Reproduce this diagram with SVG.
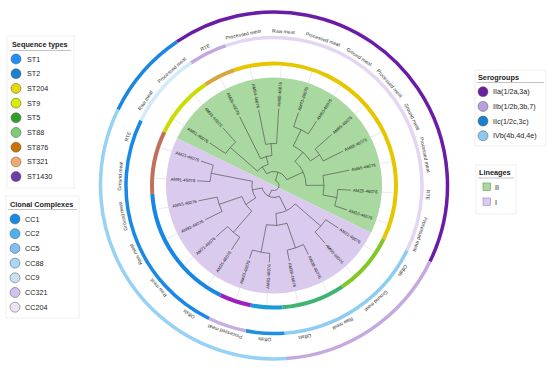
<svg xmlns="http://www.w3.org/2000/svg" width="550" height="373" viewBox="0 0 550 373">
<style>
text{font-family:"Liberation Sans",Arial,sans-serif;fill:#222}
.ttl{font-size:7.3px;font-weight:bold}
.it{font-size:7.2px}
.box{fill:#fff;stroke:#ececec;stroke-width:0.8}
.ul{stroke:#999;stroke-width:0.6}
.dot{stroke:#555;stroke-width:0.5}
.br{stroke:#4a4a4a;stroke-width:0.6;fill:none}
.arc{fill:none;stroke:#4a4a4a;stroke-width:0.6}
.ext{stroke:#d4d4d4;stroke-width:0.5}
.lf{font-size:4.3px;dominant-baseline:central}
.src{font-size:5px;text-anchor:middle;fill:#333}
.rs{fill:none;stroke-width:4}
.rc{fill:none;stroke-width:3.5}
.ro{fill:none;stroke-width:3.5}
</style>
<rect width="550" height="373" fill="#fff"/>
<g id="tree" transform="translate(274,185.5)">
  <g id="lineage-fill">
    <path d="M-108,0 A108,108 0 0 1 108,0 Z" transform="rotate(26)" fill="#a9d9a0"/>
    <path d="M108,0 A108,108 0 0 1 -108,0 Z" transform="rotate(26)" fill="#d9caee"/>
  </g>
  <g id="st-ring">
    <circle class="rs" r="122" pathLength="360" stroke="#cbdc00" stroke-dasharray="30 360" transform="rotate(206)"/>
    <circle class="rs" r="122" pathLength="360" stroke="#d7a53e" stroke-dasharray="15 360" transform="rotate(236)"/>
    <circle class="rs" r="122" pathLength="360" stroke="#e5c600" stroke-dasharray="135 360" transform="rotate(251)"/>
    <circle class="rs" r="122" pathLength="360" stroke="#84c62a" stroke-dasharray="30 360" transform="rotate(26)"/>
    <circle class="rs" r="122" pathLength="360" stroke="#3fb373" stroke-dasharray="30 360" transform="rotate(56)"/>
    <circle class="rs" r="122" pathLength="360" stroke="#1a9ad8" stroke-dasharray="15 360" transform="rotate(86)"/>
    <circle class="rs" r="122" pathLength="360" stroke="#9b22c0" stroke-dasharray="15 360" transform="rotate(101)"/>
    <circle class="rs" r="122" pathLength="360" stroke="#1786e6" stroke-dasharray="60 360" transform="rotate(116)"/>
    <circle class="rs" r="122" pathLength="360" stroke="#c2705e" stroke-dasharray="30 360" transform="rotate(176)"/>
  </g>
  <g id="cc-ring">
    <circle class="rc" r="148" pathLength="360" stroke="#d3eaf9" stroke-dasharray="30 360" transform="rotate(206)"/>
    <circle class="rc" r="148" pathLength="360" stroke="#c4a6e0" stroke-dasharray="15 360" transform="rotate(236)"/>
    <circle class="rc" r="148" pathLength="360" stroke="#e3d6f3" stroke-dasharray="135 360" transform="rotate(251)"/>
    <circle class="rc" r="148" pathLength="360" stroke="#8dcdf4" stroke-dasharray="60 360" transform="rotate(26)"/>
    <circle class="rc" r="148" pathLength="360" stroke="#1f8fe6" stroke-dasharray="15 360" transform="rotate(86)"/>
    <circle class="rc" r="148" pathLength="360" stroke="#c6aee0" stroke-dasharray="15 360" transform="rotate(101)"/>
    <circle class="rc" r="148" pathLength="360" stroke="#1a88e6" stroke-dasharray="90 360" transform="rotate(116)"/>
  </g>
  <g id="serogroup-ring">
    <circle class="ro" r="173.5" pathLength="360" stroke="#1a86e0" stroke-dasharray="30 360" transform="rotate(206)"/>
    <circle class="ro" r="173.5" pathLength="360" stroke="#6a1ca6" stroke-dasharray="150 360" transform="rotate(236)"/>
    <circle class="ro" r="173.5" pathLength="360" stroke="#c5a8df" stroke-dasharray="60 360" transform="rotate(26)"/>
    <circle class="ro" r="173.5" pathLength="360" stroke="#96d2f6" stroke-dasharray="120 360" transform="rotate(86)"/>
  </g>
  <g id="leaf-extensions">
    <line class="ext" x1="107" x2="120" transform="rotate(213.5)"/>
    <line class="ext" x1="107" x2="120" transform="rotate(228.5)"/>
    <line class="ext" x1="107" x2="120" transform="rotate(243.5)"/>
    <line class="ext" x1="107" x2="120" transform="rotate(258.5)"/>
    <line class="ext" x1="107" x2="120" transform="rotate(273.5)"/>
    <line class="ext" x1="107" x2="120" transform="rotate(288.5)"/>
    <line class="ext" x1="107" x2="120" transform="rotate(303.5)"/>
    <line class="ext" x1="107" x2="120" transform="rotate(318.5)"/>
    <line class="ext" x1="107" x2="120" transform="rotate(333.5)"/>
    <line class="ext" x1="107" x2="120" transform="rotate(348.5)"/>
    <line class="ext" x1="107" x2="120" transform="rotate(3.5)"/>
    <line class="ext" x1="107" x2="120" transform="rotate(18.5)"/>
    <line class="ext" x1="107" x2="120" transform="rotate(33.5)"/>
    <line class="ext" x1="107" x2="120" transform="rotate(48.5)"/>
    <line class="ext" x1="107" x2="120" transform="rotate(63.5)"/>
    <line class="ext" x1="107" x2="120" transform="rotate(78.5)"/>
    <line class="ext" x1="107" x2="120" transform="rotate(93.5)"/>
    <line class="ext" x1="107" x2="120" transform="rotate(108.5)"/>
    <line class="ext" x1="107" x2="120" transform="rotate(123.5)"/>
    <line class="ext" x1="107" x2="120" transform="rotate(138.5)"/>
    <line class="ext" x1="107" x2="120" transform="rotate(153.5)"/>
    <line class="ext" x1="107" x2="120" transform="rotate(168.5)"/>
    <line class="ext" x1="107" x2="120" transform="rotate(183.5)"/>
    <line class="ext" x1="107" x2="120" transform="rotate(198.5)"/>
  </g>
  <g id="connectors">
    <circle class="arc" r="5" pathLength="360" stroke-dasharray="189.375 360" transform="rotate(286.625)"/>
    <circle class="arc" r="14" pathLength="360" stroke-dasharray="97.5 360" transform="rotate(237.875)"/>
    <circle class="arc" r="22" pathLength="360" stroke-dasharray="33.75 360" transform="rotate(221)"/>
    <circle class="arc" r="58" pathLength="360" stroke-dasharray="15 360" transform="rotate(213.5)"/>
    <circle class="arc" r="30" pathLength="360" stroke-dasharray="22.5 360" transform="rotate(243.5)"/>
    <circle class="arc" r="42" pathLength="360" stroke-dasharray="15 360" transform="rotate(258.5)"/>
    <circle class="arc" r="32" pathLength="360" stroke-dasharray="48.75 360" transform="rotate(311)"/>
    <circle class="arc" r="44" pathLength="360" stroke-dasharray="30 360" transform="rotate(296)"/>
    <circle class="arc" r="62" pathLength="360" stroke-dasharray="15 360" transform="rotate(288.5)"/>
    <circle class="arc" r="55" pathLength="360" stroke-dasharray="15 360" transform="rotate(318.5)"/>
    <circle class="arc" r="50" pathLength="360" stroke-dasharray="22.5 360" transform="rotate(348.5)"/>
    <circle class="arc" r="64" pathLength="360" stroke-dasharray="15 360" transform="rotate(363.5)"/>
    <circle class="arc" r="12" pathLength="360" stroke-dasharray="105 360" transform="rotate(423.5)"/>
    <circle class="arc" r="28" pathLength="360" stroke-dasharray="45 360" transform="rotate(401)"/>
    <circle class="arc" r="62" pathLength="360" stroke-dasharray="15 360" transform="rotate(393.5)"/>
    <circle class="arc" r="40" pathLength="360" stroke-dasharray="30 360" transform="rotate(431)"/>
    <circle class="arc" r="66" pathLength="360" stroke-dasharray="15 360" transform="rotate(423.5)"/>
    <circle class="arc" r="68" pathLength="360" stroke-dasharray="15 360" transform="rotate(453.5)"/>
    <circle class="arc" r="22" pathLength="360" stroke-dasharray="45 360" transform="rotate(506)"/>
    <circle class="arc" r="34" pathLength="360" stroke-dasharray="30 360" transform="rotate(491)"/>
    <circle class="arc" r="62" pathLength="360" stroke-dasharray="15 360" transform="rotate(483.5)"/>
    <circle class="arc" r="58" pathLength="360" stroke-dasharray="15 360" transform="rotate(513.5)"/>
    <circle class="arc" r="64" pathLength="360" stroke-dasharray="15 360" transform="rotate(543.5)"/>
    <line class="br" x1="5" x2="14" transform="rotate(286.625)"/>
    <line class="br" x1="5" x2="12" transform="rotate(476)"/>
    <line class="br" x1="14" x2="22" transform="rotate(237.875)"/>
    <line class="br" x1="14" x2="32" transform="rotate(335.375)"/>
    <line class="br" x1="22" x2="58" transform="rotate(221)"/>
    <line class="br" x1="22" x2="30" transform="rotate(254.75)"/>
    <line class="br" x1="58" x2="77" transform="rotate(213.5)"/>
    <line class="br" x1="58" x2="77" transform="rotate(228.5)"/>
    <line class="br" x1="30" x2="77" transform="rotate(243.5)"/>
    <line class="br" x1="30" x2="42" transform="rotate(266)"/>
    <line class="br" x1="42" x2="77" transform="rotate(258.5)"/>
    <line class="br" x1="42" x2="77" transform="rotate(273.5)"/>
    <line class="br" x1="32" x2="44" transform="rotate(311)"/>
    <line class="br" x1="32" x2="50" transform="rotate(359.75)"/>
    <line class="br" x1="44" x2="62" transform="rotate(296)"/>
    <line class="br" x1="44" x2="55" transform="rotate(326)"/>
    <line class="br" x1="62" x2="77" transform="rotate(288.5)"/>
    <line class="br" x1="62" x2="77" transform="rotate(303.5)"/>
    <line class="br" x1="55" x2="77" transform="rotate(318.5)"/>
    <line class="br" x1="55" x2="77" transform="rotate(333.5)"/>
    <line class="br" x1="50" x2="77" transform="rotate(348.5)"/>
    <line class="br" x1="50" x2="64" transform="rotate(371)"/>
    <line class="br" x1="64" x2="77" transform="rotate(363.5)"/>
    <line class="br" x1="64" x2="77" transform="rotate(378.5)"/>
    <line class="br" x1="12" x2="28" transform="rotate(423.5)"/>
    <line class="br" x1="12" x2="22" transform="rotate(528.5)"/>
    <line class="br" x1="28" x2="62" transform="rotate(401)"/>
    <line class="br" x1="28" x2="40" transform="rotate(446)"/>
    <line class="br" x1="62" x2="77" transform="rotate(393.5)"/>
    <line class="br" x1="62" x2="77" transform="rotate(408.5)"/>
    <line class="br" x1="40" x2="66" transform="rotate(431)"/>
    <line class="br" x1="40" x2="68" transform="rotate(461)"/>
    <line class="br" x1="66" x2="77" transform="rotate(423.5)"/>
    <line class="br" x1="66" x2="77" transform="rotate(438.5)"/>
    <line class="br" x1="68" x2="77" transform="rotate(453.5)"/>
    <line class="br" x1="68" x2="77" transform="rotate(468.5)"/>
    <line class="br" x1="22" x2="34" transform="rotate(506)"/>
    <line class="br" x1="22" x2="64" transform="rotate(551)"/>
    <line class="br" x1="34" x2="62" transform="rotate(491)"/>
    <line class="br" x1="34" x2="58" transform="rotate(521)"/>
    <line class="br" x1="62" x2="77" transform="rotate(483.5)"/>
    <line class="br" x1="62" x2="77" transform="rotate(498.5)"/>
    <line class="br" x1="58" x2="77" transform="rotate(513.5)"/>
    <line class="br" x1="58" x2="77" transform="rotate(528.5)"/>
    <line class="br" x1="64" x2="77" transform="rotate(543.5)"/>
    <line class="br" x1="64" x2="77" transform="rotate(558.5)"/>
  </g>
  <g id="leaf-labels">
    <text class="lf" text-anchor="end" transform="rotate(213.5) translate(79,0) rotate(180)">AM01-46076</text>
    <text class="lf" text-anchor="end" transform="rotate(228.5) translate(79,0) rotate(180)">AM31-46076</text>
    <text class="lf" text-anchor="end" transform="rotate(243.5) translate(79,0) rotate(180)">AM26-46076</text>
    <text class="lf" text-anchor="end" transform="rotate(258.5) translate(79,0) rotate(180)">AM94-46076</text>
    <text class="lf" transform="rotate(273.5) translate(79,0)">AM59-46076</text>
    <text class="lf" transform="rotate(288.5) translate(79,0)">AM73-46076</text>
    <text class="lf" transform="rotate(303.5) translate(79,0)">AM63-46076</text>
    <text class="lf" transform="rotate(318.5) translate(79,0)">AM85-46076</text>
    <text class="lf" transform="rotate(333.5) translate(79,0)">AM68-46076</text>
    <text class="lf" transform="rotate(348.5) translate(79,0)">AM65-46076</text>
    <text class="lf" transform="rotate(3.5) translate(79,0)">AM25-46076</text>
    <text class="lf" transform="rotate(18.5) translate(79,0)">AM10-46076</text>
    <text class="lf" transform="rotate(33.5) translate(79,0)">AM21-46076</text>
    <text class="lf" transform="rotate(48.5) translate(79,0)">AM60-46076</text>
    <text class="lf" transform="rotate(63.5) translate(79,0)">AM38-46076</text>
    <text class="lf" transform="rotate(78.5) translate(79,0)">AM28-46076</text>
    <text class="lf" text-anchor="end" transform="rotate(93.5) translate(79,0) rotate(180)">AM61-46076</text>
    <text class="lf" text-anchor="end" transform="rotate(108.5) translate(79,0) rotate(180)">AM43-46076</text>
    <text class="lf" text-anchor="end" transform="rotate(123.5) translate(79,0) rotate(180)">AM35-46076</text>
    <text class="lf" text-anchor="end" transform="rotate(138.5) translate(79,0) rotate(180)">AM71-46076</text>
    <text class="lf" text-anchor="end" transform="rotate(153.5) translate(79,0) rotate(180)">AM93-46076</text>
    <text class="lf" text-anchor="end" transform="rotate(168.5) translate(79,0) rotate(180)">AM55-46076</text>
    <text class="lf" text-anchor="end" transform="rotate(183.5) translate(79,0) rotate(180)">AM91-46076</text>
    <text class="lf" text-anchor="end" transform="rotate(198.5) translate(79,0) rotate(180)">AM21-46076</text>
  </g>
  <g id="source-labels">
    <text class="src" transform="rotate(213.5) translate(152.5,0) rotate(90)">Raw meat</text>
    <text class="src" transform="rotate(228.5) translate(152.5,0) rotate(90)">Processed meat</text>
    <text class="src" transform="rotate(243.5) translate(152.5,0) rotate(90)">RTE</text>
    <text class="src" transform="rotate(258.5) translate(152.5,0) rotate(90)">Processed meat</text>
    <text class="src" transform="rotate(273.5) translate(152.5,0) rotate(90)">Raw meat</text>
    <text class="src" transform="rotate(288.5) translate(152.5,0) rotate(90)">Processed meat</text>
    <text class="src" transform="rotate(303.5) translate(152.5,0) rotate(90)">Ground meat</text>
    <text class="src" transform="rotate(318.5) translate(152.5,0) rotate(90)">Processed meat</text>
    <text class="src" transform="rotate(333.5) translate(152.5,0) rotate(90)">Ground meat</text>
    <text class="src" transform="rotate(348.5) translate(152.5,0) rotate(90)">Processed meat</text>
    <text class="src" transform="rotate(3.5) translate(152.5,0) rotate(90)">RTE</text>
    <text class="src" transform="rotate(18.5) translate(152.5,0) rotate(90)">Processed meat</text>
    <text class="src" transform="rotate(33.5) translate(152.5,0) rotate(90)">Offals</text>
    <text class="src" transform="rotate(48.5) translate(152.5,0) rotate(90)">Ground meat</text>
    <text class="src" transform="rotate(63.5) translate(152.5,0) rotate(90)">Raw meat</text>
    <text class="src" transform="rotate(78.5) translate(152.5,0) rotate(90)">Offals</text>
    <text class="src" transform="rotate(93.5) translate(152.5,0) rotate(90)">Offals</text>
    <text class="src" transform="rotate(108.5) translate(152.5,0) rotate(90)">Processed meat</text>
    <text class="src" transform="rotate(123.5) translate(152.5,0) rotate(90)">Offals</text>
    <text class="src" transform="rotate(138.5) translate(152.5,0) rotate(90)">Raw meat</text>
    <text class="src" transform="rotate(153.5) translate(152.5,0) rotate(90)">Raw meat</text>
    <text class="src" transform="rotate(168.5) translate(152.5,0) rotate(90)">Ground meat</text>
    <text class="src" transform="rotate(183.5) translate(152.5,0) rotate(90)">Ground meat</text>
    <text class="src" transform="rotate(198.5) translate(152.5,0) rotate(90)">RTE</text>
  </g>
</g>
<g id="legend-st">
  <rect class="box" x="7" y="36" width="67" height="152"/>
  <text class="ttl" x="12" y="47">Sequence types</text>
  <line class="ul" x1="10" y1="50.5" x2="71" y2="50.5"/>
  <circle class="dot" cx="16" cy="59" r="5" fill="#1e90ff"/>
  <text class="it" x="27" y="61.5">ST1</text>
  <circle class="dot" cx="16" cy="73.7" r="5" fill="#1a80d4"/>
  <text class="it" x="27" y="76.2">ST2</text>
  <circle class="dot" cx="16" cy="88.4" r="5" fill="#e6d800"/>
  <text class="it" x="27" y="90.9">ST204</text>
  <circle class="dot" cx="16" cy="103.1" r="5" fill="#d6ec00"/>
  <text class="it" x="27" y="105.6">ST9</text>
  <circle class="dot" cx="16" cy="117.8" r="5" fill="#33a02c"/>
  <text class="it" x="27" y="120.3">ST5</text>
  <circle class="dot" cx="16" cy="132.5" r="5" fill="#7ccd73"/>
  <text class="it" x="27" y="135">ST88</text>
  <circle class="dot" cx="16" cy="147.2" r="5" fill="#cc7000"/>
  <text class="it" x="27" y="149.7">ST876</text>
  <circle class="dot" cx="16" cy="161.9" r="5" fill="#eeaa70"/>
  <text class="it" x="27" y="164.4">ST321</text>
  <circle class="dot" cx="16" cy="176.6" r="5" fill="#6a3daa"/>
  <text class="it" x="27" y="179.1">ST1430</text>
</g>
<g id="legend-cc">
  <rect class="box" x="6" y="196" width="73" height="122"/>
  <text class="ttl" x="10" y="206.5">Clonal Complexes</text>
  <line class="ul" x1="8" y1="209.5" x2="77" y2="209.5"/>
  <circle class="dot" cx="15" cy="219" r="5" fill="#1a8ae6"/>
  <text class="it" x="25" y="221.5">CC1</text>
  <circle class="dot" cx="15" cy="233.7" r="5" fill="#4fb0f0"/>
  <text class="it" x="25" y="236.2">CC2</text>
  <circle class="dot" cx="15" cy="248.4" r="5" fill="#7ec0f5"/>
  <text class="it" x="25" y="250.9">CC5</text>
  <circle class="dot" cx="15" cy="263.1" r="5" fill="#a8d8f8"/>
  <text class="it" x="25" y="265.6">CC88</text>
  <circle class="dot" cx="15" cy="277.8" r="5" fill="#c8e0f0"/>
  <text class="it" x="25" y="280.3">CC9</text>
  <circle class="dot" cx="15" cy="292.5" r="5" fill="#d2c2ec"/>
  <text class="it" x="25" y="295">CC321</text>
  <circle class="dot" cx="15" cy="307.2" r="5" fill="#ece4f6"/>
  <text class="it" x="25" y="309.7">CC204</text>
</g>
<g id="legend-sero">
  <rect class="box" x="475" y="70" width="71" height="76"/>
  <text class="ttl" x="478" y="79.5">Serogroups</text>
  <line class="ul" x1="477" y1="82.5" x2="544" y2="82.5"/>
  <circle class="dot" cx="483" cy="91.7" r="5" fill="#6a1fa0"/>
  <text class="it" x="493" y="94.2">IIa(1/2a,3a)</text>
  <circle class="dot" cx="483" cy="106.4" r="5" fill="#b8a0dc"/>
  <text class="it" x="493" y="108.9">IIb(1/2b,3b,7)</text>
  <circle class="dot" cx="483" cy="121.1" r="5" fill="#1a7fd0"/>
  <text class="it" x="493" y="123.6">IIc(1/2c,3c)</text>
  <circle class="dot" cx="483" cy="135.8" r="5" fill="#90c8f0"/>
  <text class="it" x="493" y="138.3">IVb(4b,4d,4e)</text>
</g>
<g id="legend-lineage">
  <rect class="box" x="476" y="165" width="40" height="49"/>
  <text class="ttl" x="479" y="175">Lineages</text>
  <line class="ul" x1="478" y1="178" x2="514" y2="178"/>
  <rect x="483" y="183" width="7.5" height="7.5" fill="#a8d8a0" stroke="#5c9a50" stroke-width="0.6"/>
  <text class="it" x="495" y="189.5">II</text>
  <rect x="483" y="198" width="7.5" height="7.5" fill="#dccaf0" stroke="#9a80c0" stroke-width="0.6"/>
  <text class="it" x="495" y="204.5">I</text>
</g>
</svg>
